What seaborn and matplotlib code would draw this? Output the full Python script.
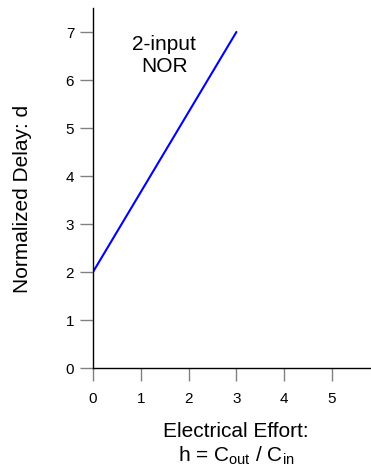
import matplotlib
matplotlib.use('Agg')
import matplotlib.pyplot as plt
import seaborn as sns
import pandas as pd

# data
effort = [0, 3]
delay = [2, 7]
x_ticks = [0, 1, 2, 3, 4, 5]
y_ticks = [0, 1, 2, 3, 4, 5, 6, 7]

sns.set_style('white')
plt.rcParams['font.family'] = ['Liberation Sans', 'DejaVu Sans']
plt.rcParams['text.color'] = 'black'
plt.rcParams['axes.labelcolor'] = 'black'
plt.rcParams['xtick.labelcolor'] = 'black'
plt.rcParams['ytick.labelcolor'] = 'black'

df = pd.DataFrame({'h': effort, 'd': delay})

fig = plt.figure(figsize=(3.71, 4.71), dpi=100)
ax = fig.add_axes([93 / 371, 1 - 368 / 471, 285 / 371, 360 / 471])

sns.lineplot(data=df, x='h', y='d', color='#0000ff', linewidth=1.5, ax=ax)

xmax = 285 / 47.8
ymax = 360 / 48
ax.set_xlim(0, xmax)
ax.set_ylim(0, ymax)
ax.set_xticks(x_ticks)
ax.set_yticks(y_ticks)
ax.tick_params(axis='both', direction='out', length=9.5, width=1, color='#808080',
               labelsize=11, left=True, bottom=True)
ax.tick_params(axis='x', pad=8)
ax.tick_params(axis='y', pad=4)

sns.despine(ax=ax)
for s in ['left', 'bottom']:
    ax.spines[s].set_color('black')
    ax.spines[s].set_linewidth(1)

ax.set_xlabel('Electrical Effort:\nh = C$_{\\mathregular{out}}$ / C$_{\\mathregular{in}}$', fontsize=15,
              linespacing=1.2)
ax.xaxis.set_label_coords((236 - 93) / 47.8 / xmax, -0.149)
ax.set_ylabel('Normalized Delay: d', fontsize=15)
ax.yaxis.set_label_coords(-0.213, (368 - 199) / 48 / ymax)

ax.text(1.49, 6.5, '2-input\nNOR', ha='center', va='center', fontsize=15, linespacing=1.2)

fig.savefig('out.png', dpi=100)
